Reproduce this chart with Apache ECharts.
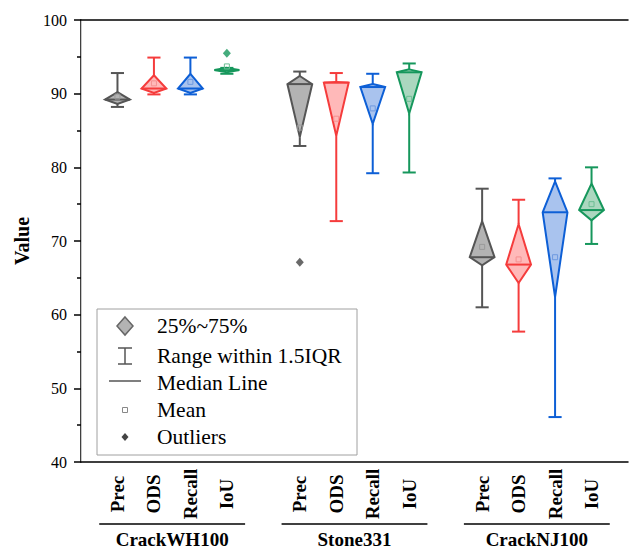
<!DOCTYPE html>
<html>
<head>
<meta charset="utf-8">
<script src="https://cdn.jsdelivr.net/npm/echarts@6/dist/echarts.min.js"></script>
<style>html,body{margin:0;padding:0;background:#fff}#c{width:630px;height:549px}</style>
</head>
<body>
<div id="c"></div>
<script>
// ---- data ----
const metrics = ['Prec', 'ODS', 'Recall', 'IoU'];
const groups = ['CrackWH100', 'Stone331', 'CrackNJ100'];
// 12 boxes, group-major order (Prec, ODS, Recall, IoU per dataset)
const whiskerLow  = [88.2, 89.9, 89.9, 92.7, 82.9, 72.7, 79.2, 79.3, 61.0, 57.7, 46.1, 69.6];
const q1          = [88.6, 90.1, 90.1, 92.9, 84.1, 84.3, 85.9, 87.3, 66.7, 64.3, 62.4, 72.8];
const median      = [89.2, 90.7, 90.7, 93.2, 91.3, 91.5, 90.9, 92.9, 67.8, 66.8, 73.9, 74.2];
const q3          = [90.2, 92.5, 92.7, 93.5, 92.4, 91.6, 91.3, 93.3, 72.7, 72.3, 78.1, 77.8];
const whiskerHigh = [92.8, 94.9, 94.9, 93.5, 93.0, 92.8, 92.7, 94.1, 77.1, 75.6, 78.5, 80.0];
const means       = [89.6, 91.4, 91.6, 93.7, 85.4, 86.6, 88.0, 89.3, 69.2, 67.5, 67.8, 75.0];
const outliers    = [[3, 95.5], [4, 67.1]]; // [box index, value]
const yTicks = [40, 50, 60, 70, 80, 90, 100];
const legendLabels = ['25%~75%', 'Range within 1.5IQR', 'Median Line', 'Mean', 'Outliers'];

// ---- styles ----
const strokeColors = ['#555555', '#f53c3c', '#0d5fd6', '#16975c'];
const fillColors   = ['#b3b3b3', '#ffb9b9', '#a9c3ee', '#abd7bf'];
const meanColors   = ['#9a9a9a', '#f59090', '#6f9ae0', '#6bbd93'];
const SERIF = "'Liberation Serif', 'Times New Roman', serif";
const BOX_W = 0.68, CAP_W = 0.36;

const posOf = i => Math.floor(i / 4) * 5 + (i % 4) + 1;
const boxData = whiskerLow.map((v, i) => [posOf(i), v, q1[i], median[i], q3[i], whiskerHigh[i], means[i], i % 4]);
const outlierData = outliers.map(o => ({value: [posOf(o[0]), o[1]], itemStyle: {color: o[0] % 4 === 0 ? '#444' : strokeColors[o[0] % 4]}}));
const catLabels = [''];
groups.forEach(() => { metrics.forEach(m => catLabels.push(m)); catLabels.push(''); });
const underlineData = groups.map((g, gi) => [gi * 5 + 0.5, gi * 5 + 4.5]);

function renderBox(params, api) {
  const x = api.value(0);
  const k = api.value(7);
  const sc = strokeColors[k], fc = fillColors[k];
  const pLow = api.coord([x, api.value(1)]);
  const pQ1 = api.coord([x, api.value(2)]);
  const pMed = api.coord([x, api.value(3)]);
  const pQ3 = api.coord([x, api.value(4)]);
  const pHigh = api.coord([x, api.value(5)]);
  const pMean = api.coord([x, api.value(6)]);
  const hw = api.size([BOX_W, 0])[0] / 2;
  const cw = api.size([CAP_W, 0])[0] / 2;
  const cx = pMed[0];
  const ls = {stroke: sc, lineWidth: 2, fill: null};
  return {
    type: 'group',
    children: [
      {type: 'line', shape: {x1: cx, y1: pHigh[1], x2: cx, y2: pQ3[1]}, style: ls},
      {type: 'line', shape: {x1: cx, y1: pQ1[1], x2: cx, y2: pLow[1]}, style: ls},
      {type: 'line', shape: {x1: cx - cw, y1: pHigh[1], x2: cx + cw, y2: pHigh[1]}, style: ls},
      {type: 'line', shape: {x1: cx - cw, y1: pLow[1], x2: cx + cw, y2: pLow[1]}, style: ls},
      {type: 'polygon', shape: {points: [[cx, pQ3[1]], [cx + hw, pMed[1]], [cx, pQ1[1]], [cx - hw, pMed[1]]]},
        style: {fill: fc, stroke: sc, lineWidth: 2, lineJoin: 'miter'}},
      {type: 'line', shape: {x1: cx - hw, y1: pMed[1], x2: cx + hw, y2: pMed[1]}, style: ls},
      {type: 'rect', shape: {x: cx - 2.5, y: pMean[1] - 2.5, width: 5, height: 5},
        style: {fill: null, stroke: meanColors[k], lineWidth: 1}}
    ]
  };
}

function renderUnderline(params, api) {
  const a = api.coord([api.value(0), 40]);
  const b = api.coord([api.value(1), 40]);
  const y = a[1] + 62;
  return {type: 'line', shape: {x1: a[0], y1: y, x2: b[0], y2: y}, style: {stroke: '#000', lineWidth: 1.5}};
}

// legend (graphic)
const LX = 97, LY = 309, rowY = [326, 356, 383, 410, 437], iconX = 125, textX = 157;
const legendGraphics = [
  {type: 'rect', shape: {x: LX, y: LY, width: 260, height: 146}, style: {fill: '#fff', stroke: '#a0a0a0', lineWidth: 1}, z: 10},
  {type: 'polygon', shape: {points: [[iconX, rowY[0] - 9], [iconX + 8, rowY[0]], [iconX, rowY[0] + 9], [iconX - 8, rowY[0]]]},
    style: {fill: '#b3b3b3', stroke: '#666', lineWidth: 1.5}, z: 11},
  {type: 'polyline', shape: {points: [[iconX - 7, rowY[1] - 8], [iconX + 7, rowY[1] - 8]]}, style: {stroke: '#555', lineWidth: 1.5, fill: null}, z: 11},
  {type: 'polyline', shape: {points: [[iconX, rowY[1] - 8], [iconX, rowY[1] + 8]]}, style: {stroke: '#555', lineWidth: 1.5, fill: null}, z: 11},
  {type: 'polyline', shape: {points: [[iconX - 7, rowY[1] + 8], [iconX + 7, rowY[1] + 8]]}, style: {stroke: '#555', lineWidth: 1.5, fill: null}, z: 11},
  {type: 'polyline', shape: {points: [[iconX - 16, rowY[2] - 2], [iconX + 16, rowY[2] - 2]]}, style: {stroke: '#555', lineWidth: 1.5, fill: null}, z: 11},
  {type: 'rect', shape: {x: iconX - 2.5, y: rowY[3] - 2.5, width: 5, height: 5}, style: {fill: null, stroke: '#888', lineWidth: 1}, z: 11},
  {type: 'polygon', shape: {points: [[iconX, rowY[4] - 4], [iconX + 3.5, rowY[4]], [iconX, rowY[4] + 4], [iconX - 3.5, rowY[4]]]}, style: {fill: '#444'}, z: 11}
];
legendLabels.forEach((t, i) => legendGraphics.push({
  type: 'text', x: textX, y: rowY[i], z: 11,
  style: {text: t, fontFamily: SERIF, fontSize: 21.5, fill: '#000', verticalAlign: 'middle', align: 'left'}
}));

const chart = echarts.init(document.getElementById('c'), null, {renderer: 'svg'});
chart.setOption({
  animation: false,
  backgroundColor: '#fff',
  grid: {left: 81, right: 2, top: 20, bottom: 87, containLabel: false},
  xAxis: [
    {type: 'value', min: 0, max: 15, position: 'bottom',
      axisLine: {show: true, lineStyle: {color: '#000', width: 1.5}}, axisTick: {show: false},
      axisLabel: {show: false}, splitLine: {show: false}},
    {type: 'category', data: catLabels, boundaryGap: false, position: 'bottom',
      axisLine: {show: false}, axisTick: {show: false}, splitLine: {show: false},
      axisLabel: {interval: 0, rotate: 90, align: 'center', margin: 32,
        fontFamily: SERIF, fontWeight: 'bold', fontSize: 19, color: '#000'}},
    {type: 'category', data: groups, boundaryGap: true, position: 'bottom',
      axisLine: {show: false}, axisTick: {show: false}, splitLine: {show: false},
      axisLabel: {interval: 0, margin: 68, fontFamily: SERIF, fontWeight: 'bold', fontSize: 19, color: '#000'}},
    {type: 'value', min: 0, max: 15, position: 'top',
      axisLine: {show: true, lineStyle: {color: '#000', width: 1.5}}, axisTick: {show: false},
      axisLabel: {show: false}, splitLine: {show: false}}
  ],
  yAxis: [
    {type: 'value', min: yTicks[0], max: yTicks[yTicks.length - 1], interval: 10, position: 'left',
      name: 'Value', nameLocation: 'middle', nameGap: 49,
      nameTextStyle: {fontFamily: SERIF, fontWeight: 'bold', fontSize: 20, color: '#000'},
      axisLine: {show: true, lineStyle: {color: '#000', width: 1.5}},
      axisTick: {show: true, inside: false, length: 7, lineStyle: {color: '#000', width: 1.5}},
      minorTick: {show: true, splitNumber: 2, length: 4, lineStyle: {color: '#000', width: 1.5}},
      axisLabel: {margin: 14, fontFamily: SERIF, fontSize: 16, color: '#000'},
      splitLine: {show: false}},
    {type: 'value', min: 40, max: 100, position: 'right',
      axisLine: {show: true, lineStyle: {color: '#c8c8c8', width: 1}},
      axisTick: {show: false}, axisLabel: {show: false}, splitLine: {show: false}}
  ],
  series: [
    {type: 'custom', name: 'boxes', xAxisIndex: 0, yAxisIndex: 0, data: boxData, renderItem: renderBox, clip: false, z: 3},
    {type: 'scatter', name: 'outliers', xAxisIndex: 0, yAxisIndex: 0, data: outlierData, symbol: 'diamond', symbolSize: [8, 9], z: 4},
    {type: 'custom', name: 'underlines', xAxisIndex: 0, yAxisIndex: 0, data: underlineData, renderItem: renderUnderline, clip: false, silent: true}
  ],
  graphic: legendGraphics
});
</script>
</body>
</html>
